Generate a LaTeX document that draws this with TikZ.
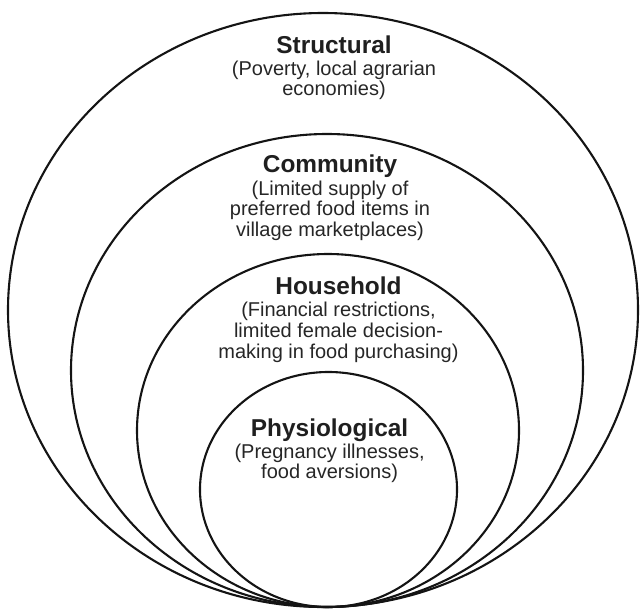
\documentclass[tikz,border=0pt]{standalone}
\usepackage{fontspec}
\setmainfont{Liberation Sans}
\usetikzlibrary{shapes.geometric}
\tikzset{
  ring/.style={draw=black!92, line width=2.1pt, ellipse, inner sep=0pt},
  ttl/.style={anchor=base, inner sep=0pt, text=black!88, font=\fontsize{24.4}{28}\selectfont\bfseries},
  dsc/.style={anchor=base, inner sep=0pt, text=black!85, font=\fontsize{20}{24}\selectfont}
}
\begin{document}
\begin{tikzpicture}[x=1pt,y=-1pt]
\useasboundingbox (0,0) rectangle (640,608);
% nested ellipses
\node[ring, minimum width=630pt, minimum height=594pt] (structural) at (323,310) {};
\node[ring, minimum width=512pt, minimum height=473pt] (community) at (327,370.5) {};
\node[ring, minimum width=382pt, minimum height=353pt] (household) at (328,430.5) {};
\node[ring, minimum width=257pt, minimum height=235pt] (physio) at (328.5,489.5) {};
% Structural
\node[ttl] (t1) at (334,53) {Structural};
\node[dsc] (d1a) at (334,75) {(Poverty, local agrarian};
\node[dsc] (d1b) at (334,95.8) {economies)};
% Community
\node[ttl] (t2) at (330,172.5) {Community};
\node[dsc] (d2a) at (330,195) {(Limited supply of};
\node[dsc] (d2b) at (330,215.8) {preferred food items in};
\node[dsc] (d2c) at (330,236.6) {village marketplaces)};
% Household
\node[ttl] (t3) at (338.5,294.7) {Household};
\node[dsc] (d3a) at (338.5,316.5) {(Financial restrictions,};
\node[dsc] (d3b) at (338.5,337.3) {limited female decision-};
\node[dsc] (d3c) at (338.5,358.1) {making in food purchasing)};
% Physiological
\node[ttl] (t4) at (329.6,436) {Physiological};
\node[dsc] (d4a) at (329.6,458) {(Pregnancy illnesses,};
\node[dsc] (d4b) at (329.6,478.5) {food aversions)};
\end{tikzpicture}
\end{document}
